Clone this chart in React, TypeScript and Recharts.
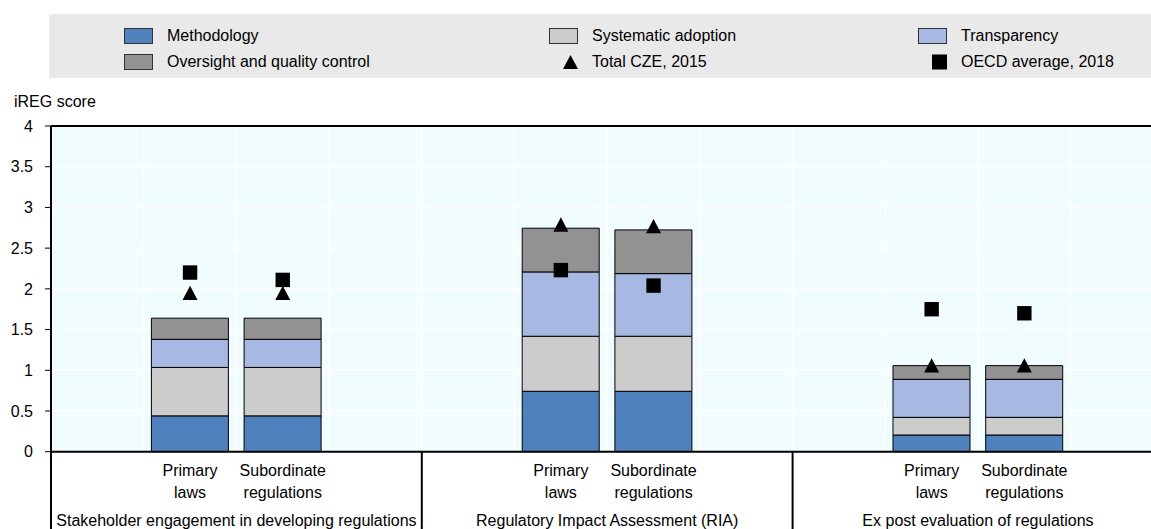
import {
  ComposedChart, Bar, Scatter, XAxis, YAxis, CartesianGrid, Legend, ReferenceLine,
} from 'recharts';

const groups = [
  'Stakeholder engagement in developing regulations',
  'Regulatory Impact Assessment (RIA)',
  'Ex post evaluation of regulations',
];
const regTypes = ['Primary laws', 'Subordinate regulations'];

// one value per bar, group by group: primary laws, then subordinate regulations
const methodology = [0.44, 0.44, 0.742, 0.742, 0.205, 0.205];
const systematicAdoption = [0.595, 0.595, 0.676, 0.676, 0.217, 0.217];
const transparency = [0.345, 0.345, 0.79, 0.769, 0.467, 0.467];
const oversight = [0.26, 0.26, 0.537, 0.537, 0.168, 0.168];
const totalCze2015 = [1.95, 1.95, 2.79, 2.77, 1.06, 1.06];
const oecdAverage2018 = [2.2, 2.11, 2.23, 2.04, 1.75, 1.7];

const yTicks = [0, 0.5, 1, 1.5, 2, 2.5, 3, 3.5, 4];

const colors = {
  methodology: '#4f81bd',
  systematic: '#cccccc',
  transparency: '#a7b9e3',
  oversight: '#929292',
};

// each group: an empty slot, the two bars, an empty slot
const data = groups.flatMap((group, gi) =>
  ['', ...regTypes, ''].map((reg, pos) => {
    const i = gi * 2 + pos - 1;
    const has = reg !== '';
    return {
      slot: `${gi}-${pos}`,
      group,
      reg,
      pos,
      methodology: has ? methodology[i] : null,
      systematic: has ? systematicAdoption[i] : null,
      transparency: has ? transparency[i] : null,
      oversight: has ? oversight[i] : null,
      cze: has ? totalCze2015[i] : null,
      oecd: has ? oecdAverage2018[i] : null,
    };
  }),
);

const legendItems = [
  { name: 'Methodology', kind: 'rect', color: colors.methodology },
  { name: 'Systematic adoption', kind: 'rect', color: colors.systematic },
  { name: 'Transparency', kind: 'rect', color: colors.transparency },
  { name: 'Oversight and quality control', kind: 'rect', color: colors.oversight },
  { name: 'Total CZE, 2015', kind: 'triangle', color: '#000' },
  { name: 'OECD average, 2018', kind: 'square', color: '#000' },
];

function LegendBox() {
  return (
    <div style={{
      background: '#e9e9e9', height: 64, boxSizing: 'border-box', padding: '9px 0 0 75px',
      display: 'grid', gridTemplateColumns: '425px 369px 1fr', gridAutoRows: 26,
      fontSize: 16, color: '#000',
    }}>
      {legendItems.map(item => (
        <div key={item.name} style={{ display: 'flex', alignItems: 'center' }}>
          <svg width={29} height={16} style={{ marginRight: 14, flex: 'none' }}>
            {item.kind === 'rect' && (
              <rect x={0.5} y={0.5} width={28} height={15} fill={item.color} stroke="#333" />
            )}
            {item.kind === 'triangle' && <polygon points="14,15 29,15 21.5,1" fill="#000" />}
            {item.kind === 'square' && <rect x={14} y={0.5} width={15} height={15} fill="#000" />}
          </svg>
          <span>{item.name}</span>
        </div>
      ))}
    </div>
  );
}

function SlotTick(props: any) {
  const { x, y, payload } = props;
  const d = data.find(e => e.slot === payload.value);
  if (!d) return null;
  const half = payload.offset ?? 0;
  const cut = d.reg.indexOf(' ');
  return (
    <g>
      {d.pos === 0 && (
        <line x1={x - half} x2={x - half} y1={y} y2={y + 80} stroke="#000" strokeWidth={2} />
      )}
      {d.reg && (
        <text textAnchor="middle" fontSize={16} fill="#000">
          <tspan x={x} y={y + 24.3}>{d.reg.slice(0, cut)}</tspan>
          <tspan x={x} y={y + 46.3}>{d.reg.slice(cut + 1)}</tspan>
        </text>
      )}
      {d.pos === 1 && (
        <text x={x + half} y={y + 73.8} textAnchor="middle" fontSize={16} fill="#000">{d.group}</text>
      )}
    </g>
  );
}

const Triangle = (p: any) =>
  p.payload?.cze == null ? <g /> : (
    <polygon points={`${p.cx - 7.5},${p.cy + 7.2} ${p.cx + 7.5},${p.cy + 7.2} ${p.cx},${p.cy - 7.2}`} fill="#000" />
  );

const Square = (p: any) =>
  p.payload?.oecd == null ? <g /> : (
    <rect x={p.cx - 7.2} y={p.cy - 7.2} width={14.4} height={14.4} fill="#000" />
  );

export default function App() {
  return (
    <div style={{
      position: 'absolute', left: 0, top: 0, width: 1151, height: 529, overflow: 'hidden',
      background: '#fff', fontFamily: '"Liberation Sans", Arial, sans-serif',
    }}>
      <ComposedChart
        width={1170}
        height={529}
        data={data}
        margin={{ top: 126, right: 6.6, bottom: 0, left: 0 }}
        barCategoryGap="8.3%"
      >
        <CartesianGrid
          fill="#f1fcfe"
          stroke="#fff"
          strokeWidth={1.5}
          verticalCoordinatesGenerator={({ offset }: any) =>
            data.map((_, i) => offset.left + (i * offset.width) / data.length)}
        />
        <XAxis
          dataKey="slot"
          height={77.3}
          interval={0}
          tickSize={0}
          tickMargin={0}
          tickLine={false}
          axisLine={{ stroke: '#000', strokeWidth: 2 }}
          tick={SlotTick}
        />
        <YAxis
          width={51}
          domain={[0, 4]}
          ticks={yTicks}
          tickSize={6}
          tickMargin={12}
          tick={{ fill: '#000', fontSize: 16 }}
          tickLine={{ stroke: '#000' }}
          axisLine={{ stroke: '#000', strokeWidth: 2 }}
          label={({ viewBox }: any) => (
            <text x={14} y={viewBox.y - 19.5} fontSize={16} fill="#000">iREG score</text>
          )}
        />
        <ReferenceLine y={4} stroke="#000" strokeWidth={2} />
        <Legend
          layout="horizontal"
          verticalAlign="middle"
          align="center"
          wrapperStyle={{ top: 14, left: 49, width: 1110, height: 64 }}
          content={() => <LegendBox />}
        />
        <Bar dataKey="methodology" name="Methodology" stackId="a" fill={colors.methodology} stroke="#000" strokeWidth={1} isAnimationActive={false} />
        <Bar dataKey="systematic" name="Systematic adoption" stackId="a" fill={colors.systematic} stroke="#000" strokeWidth={1} isAnimationActive={false} />
        <Bar dataKey="transparency" name="Transparency" stackId="a" fill={colors.transparency} stroke="#000" strokeWidth={1} isAnimationActive={false} />
        <Bar dataKey="oversight" name="Oversight and quality control" stackId="a" fill={colors.oversight} stroke="#000" strokeWidth={1} isAnimationActive={false} />
        <Scatter dataKey="cze" name="Total CZE, 2015" shape={Triangle} isAnimationActive={false} />
        <Scatter dataKey="oecd" name="OECD average, 2018" shape={Square} isAnimationActive={false} />
      </ComposedChart>
    </div>
  );
}
